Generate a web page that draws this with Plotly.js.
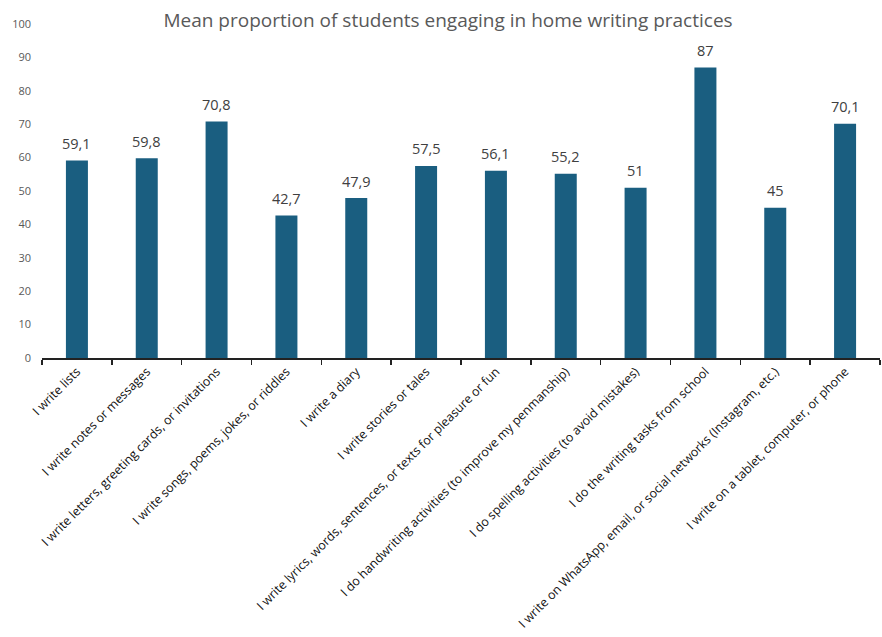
<!DOCTYPE html>
<html><head><meta charset="utf-8">
<script src="https://cdn.plot.ly/plotly-3.0.1.min.js"></script>
<style>html,body{margin:0;padding:0;background:#fff}#chart{width:882px;height:637px}</style>
</head><body><div id="chart"></div>
<script>
const categories = [
  "I write lists",
  "I write notes or messages",
  "I write letters, greeting cards, or invitations",
  "I write songs, poems, jokes, or riddles",
  "I write a diary",
  "I write stories or tales",
  "I write lyrics, words, sentences, or texts for pleasure or fun",
  "I do handwriting activities (to improve my penmanship)",
  "I do spelling activities (to avoid mistakes)",
  "I do the writing tasks from school",
  "I write on WhatsApp, email, or social networks (Instagram, etc.)",
  "I write on a tablet, computer, or phone"
];
const values = [59.1, 59.8, 70.8, 42.7, 47.9, 57.5, 56.1, 55.2, 51, 87, 45, 70.1];
const labels = values.map(v => String(v).replace('.', ','));
const yTicks = [0,10,20,30,40,50,60,70,80,90,100];

const trace = {
  type: 'bar', x: categories, y: values,
  marker: {color: '#1a5e80'}, hoverinfo: 'none'
};
const annotations = categories.map((c, i) => ({
  x: c, y: values[i], xref: 'x', yref: 'y', text: labels[i], showarrow: false,
  yanchor: 'middle', yshift: 17,
  font: {family: 'Open Sans, sans-serif', size: 14.5, color: '#404040'}
}));
const layout = {
  width: 882, height: 637,
  margin: {l: 42, r: 2, t: 24, b: 279},
  paper_bgcolor: '#fff', plot_bgcolor: '#fff',
  bargap: 0.685,
  showlegend: false,
  annotations: annotations,
  title: {text: 'Mean proportion of students engaging in home writing practices',
    font: {family: 'Open Sans, sans-serif', size: 19, color: '#595959'},
    x: 0.508, xanchor: 'center', y: 0.968, yanchor: 'middle', yref: 'container'},
  xaxis: {type: 'category', tickangle: -45, showline: true, linecolor: '#222', linewidth: 1.5,
    ticks: 'outside', tickson: 'boundaries', ticklen: 5, tickcolor: '#222', tickwidth: 1.5,
    tickfont: {family: 'Open Sans, sans-serif', size: 12.4, color: '#111'}, showgrid: false, automargin: false},
  yaxis: {range: [0, 100], tickvals: yTicks, showgrid: false, zeroline: false, showline: false,
    ticklabelstandoff: 10,
    tickfont: {family: 'Open Sans, sans-serif', size: 11, color: '#595959'}, ticks: '', automargin: false}
};
Plotly.newPlot('chart', [trace], layout, {staticPlot: true});
</script></body></html>
